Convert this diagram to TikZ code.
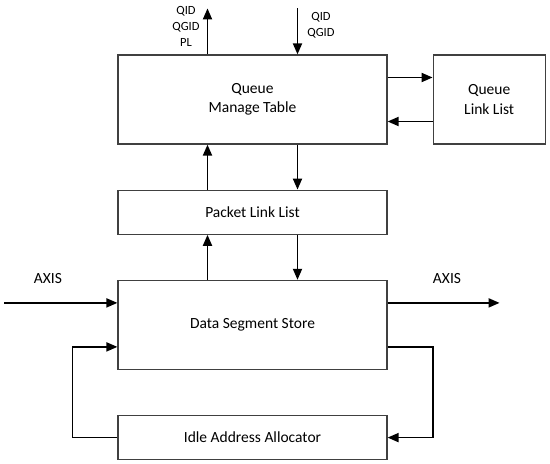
\documentclass[tikz,border=0pt]{standalone}
\usepackage{fontspec}
\setmainfont{Carlito}
\usetikzlibrary{positioning, arrows.meta}

\begin{document}
\begin{tikzpicture}[
    x=1pt, y=1pt,
    font=\fontsize{15.5}{19.5}\selectfont,
    block/.style={draw=black!75, line width=1.2pt, rectangle, align=center, minimum width=269pt, minimum height=89pt, inner sep=0pt},
    thinblock/.style={block, minimum height=44pt},
    sideblock/.style={block, minimum width=112pt},
    tag/.style={align=center, font=\fontsize{12.5}{16}\selectfont, inner sep=0pt},
    arrow/.style={-{Triangle[length=11pt, width=9pt]}, line width=1.8pt}
]
\useasboundingbox (0,0) rectangle (550,464);

\node[block] (qmt) at (252.5,364.5) {Queue\\Manage Table};
\node[sideblock, right=45pt of qmt] (qll) {Queue\\Link List};
\node[thinblock, below=45pt of qmt] (pll) {Packet Link List};
\node[block, below=45pt of pll] (dss) {Data Segment Store};
\node[thinblock, below=45pt of dss] (iaa) {Idle Address Allocator};

% free ends
\path ([xshift=-45pt]qmt.north) ++(0,46) coordinate (qout);
\path ([xshift=45pt]qmt.north) ++(0,46) coordinate (qin);
\path ([yshift=22pt]dss.west) ++(-113,0) coordinate (axisin);
\path ([yshift=22pt]dss.east) ++(112,0) coordinate (axisout);

\node[tag] (qoutlbl) at (186,438) {QID\\QGID\\PL};
\node[tag] (qinlbl) at (321,438.5) {QID\\QGID};
\node (axisinlbl) at (48,185) {AXIS};
\node (axisoutlbl) at (447,185) {AXIS};

\draw[arrow] ([xshift=-45pt]qmt.north) -- (qout);
\draw[arrow] (qin) -- ([xshift=45pt]qmt.north);

\draw[arrow] ([yshift=22pt]qmt.east) -- ([yshift=22pt]qll.west);
\draw[arrow] ([yshift=-22pt]qll.west) -- ([yshift=-22pt]qmt.east);

\draw[arrow] ([xshift=-45pt]pll.north) -- ([xshift=-45pt]qmt.south);
\draw[arrow] ([xshift=45pt]qmt.south) -- ([xshift=45pt]pll.north);
\draw[arrow] ([xshift=-45pt]dss.north) -- ([xshift=-45pt]pll.south);
\draw[arrow] ([xshift=45pt]pll.south) -- ([xshift=45pt]dss.north);

\draw[arrow] (axisin) -- ([yshift=22pt]dss.west);
\draw[arrow] ([yshift=22pt]dss.east) -- (axisout);

\draw[arrow] (iaa.west) -- ++(-45,0) |- ([yshift=-22pt]dss.west);
\draw[arrow] ([yshift=-22pt]dss.east) -- ++(45,0) |- (iaa.east);

\end{tikzpicture}
\end{document}
